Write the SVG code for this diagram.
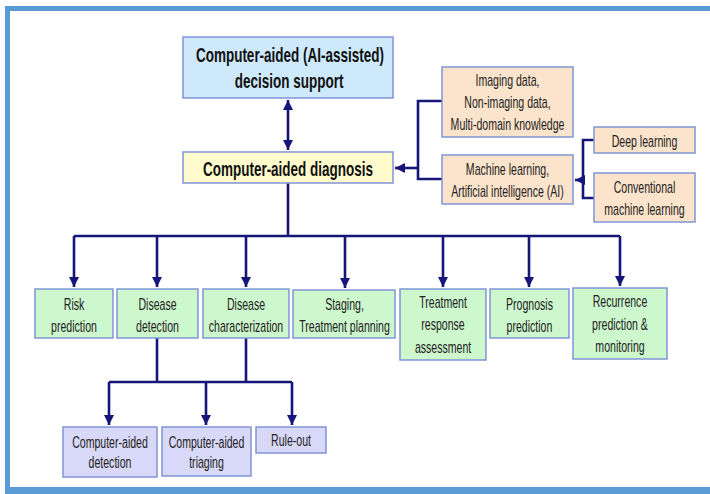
<svg xmlns="http://www.w3.org/2000/svg" width="710" height="494" viewBox="0 0 710 494">
<style>
.t{font-family:"Liberation Sans",Arial,sans-serif;font-size:16px;fill:#222;text-anchor:middle;transform:scaleX(.66);transform-box:fill-box;transform-origin:center}
.b{font-weight:bold;font-size:20px;fill:#111;transform:scaleX(.675)}
.n{stroke:#7f95d6;stroke-width:1.5}
.c{fill:none;stroke:#16167a;stroke-width:2.6}
</style>
<defs>
<marker id="ah" markerUnits="userSpaceOnUse" markerWidth="10" markerHeight="12" refX="10" refY="5" orient="auto-start-reverse" viewBox="0 0 10 10">
<path d="M0,0 L10,5 L0,10 Z" fill="#16167a"/>
</marker>
</defs>
<rect width="710" height="494" fill="#fff"/>
<g id="frame" fill="#5b9bd5">
<rect x="5" y="6" width="705" height="5"/>
<rect x="5" y="6" width="5" height="488"/>
<rect x="5" y="487" width="705" height="7"/>
</g>
<g id="connectors" class="c">
<line x1="288" y1="100" x2="288" y2="150" marker-start="url(#ah)" marker-end="url(#ah)"/>
<path d="M442,101 H418 V179 H442"/>
<line x1="418" y1="168" x2="395" y2="168" marker-end="url(#ah)"/>
<path d="M594,140 H583 V198 H594"/>
<line x1="583" y1="180" x2="575" y2="180" marker-end="url(#ah)"/>
<path d="M288,183 V236"/>
<path d="M74,236 H620"/>
<line x1="74" y1="236" x2="74" y2="287" marker-end="url(#ah)"/>
<line x1="157" y1="236" x2="157" y2="287" marker-end="url(#ah)"/>
<line x1="246" y1="236" x2="246" y2="287" marker-end="url(#ah)"/>
<line x1="345" y1="236" x2="345" y2="288" marker-end="url(#ah)"/>
<line x1="443" y1="236" x2="443" y2="287" marker-end="url(#ah)"/>
<line x1="529" y1="236" x2="529" y2="287" marker-end="url(#ah)"/>
<line x1="620" y1="236" x2="620" y2="286" marker-end="url(#ah)"/>
<path d="M157,338 V382 M246,338 V382 M109,382 H292"/>
<line x1="109" y1="382" x2="109" y2="425" marker-end="url(#ah)"/>
<line x1="206" y1="382" x2="206" y2="425" marker-end="url(#ah)"/>
<line x1="292" y1="382" x2="292" y2="425" marker-end="url(#ah)"/>
</g>
<g id="decision-support">
<rect class="n" x="183" y="37" width="210" height="61" fill="#cde9fb"/>
<text class="t b" x="290" y="62">Computer-aided (AI-assisted)</text>
<text class="t b" x="289" y="88">decision support</text>
</g>
<g id="cad">
<rect class="n" x="183" y="152" width="210" height="31" fill="#fffbcc"/>
<text class="t b" x="288" y="176">Computer-aided diagnosis</text>
</g>
<g id="data">
<rect class="n" x="442" y="67" width="131" height="70" fill="#fce3cb"/>
<text class="t" x="507.5" y="86">Imaging data,</text>
<text class="t" x="507.5" y="108">Non-imaging data,</text>
<text class="t" x="507.5" y="130">Multi-domain knowledge</text>
</g>
<g id="ml">
<rect class="n" x="442" y="155" width="131" height="49" fill="#fce3cb"/>
<text class="t" x="507.5" y="175">Machine learning,</text>
<text class="t" x="507.5" y="197">Artificial intelligence (AI)</text>
</g>
<g id="deep-learning">
<rect class="n" x="594" y="127" width="101" height="26" fill="#fce3cb"/>
<text class="t" x="644.5" y="147">Deep learning</text>
</g>
<g id="conventional-ml">
<rect class="n" x="594" y="173" width="101" height="49" fill="#fce3cb"/>
<text class="t" x="644.5" y="193">Conventional</text>
<text class="t" x="644.5" y="215">machine learning</text>
</g>
<g id="risk">
<rect class="n" x="35" y="289" width="78" height="49" fill="#cdf7cd"/>
<text class="t" x="74" y="310">Risk</text>
<text class="t" x="74" y="332">prediction</text>
</g>
<g id="detection">
<rect class="n" x="117" y="289" width="81" height="49" fill="#cdf7cd"/>
<text class="t" x="157.5" y="310">Disease</text>
<text class="t" x="157.5" y="332">detection</text>
</g>
<g id="characterization">
<rect class="n" x="203" y="289" width="86" height="49" fill="#cdf7cd"/>
<text class="t" x="246" y="310">Disease</text>
<text class="t" x="246" y="332">characterization</text>
</g>
<g id="staging">
<rect class="n" x="293" y="290" width="102" height="48" fill="#cdf7cd"/>
<text class="t" x="344.5" y="310">Staging,</text>
<text class="t" x="344.5" y="332">Treatment planning</text>
</g>
<g id="response">
<rect class="n" x="400" y="289" width="86" height="71" fill="#cdf7cd"/>
<text class="t" x="443" y="308">Treatment</text>
<text class="t" x="443" y="330">response</text>
<text class="t" x="443" y="353">assessment</text>
</g>
<g id="prognosis">
<rect class="n" x="490" y="289" width="79" height="49" fill="#cdf7cd"/>
<text class="t" x="529.5" y="310">Prognosis</text>
<text class="t" x="529.5" y="332">prediction</text>
</g>
<g id="recurrence">
<rect class="n" x="573" y="288" width="94" height="71" fill="#cdf7cd"/>
<text class="t" x="620" y="307">Recurrence</text>
<text class="t" x="620" y="330">prediction &amp;</text>
<text class="t" x="620" y="352">monitoring</text>
</g>
<g id="cadetection">
<rect class="n" x="63" y="427" width="94" height="50" fill="#d8d8f8"/>
<text class="t" x="110" y="448">Computer-aided</text>
<text class="t" x="110" y="468">detection</text>
</g>
<g id="catriaging">
<rect class="n" x="162" y="427" width="89" height="49" fill="#d8d8f8"/>
<text class="t" x="206.5" y="448">Computer-aided</text>
<text class="t" x="206.5" y="468">triaging</text>
</g>
<g id="ruleout">
<rect class="n" x="256" y="427" width="70" height="26" fill="#d8d8f8"/>
<text class="t" x="291" y="446">Rule-out</text>
</g>
</svg>
